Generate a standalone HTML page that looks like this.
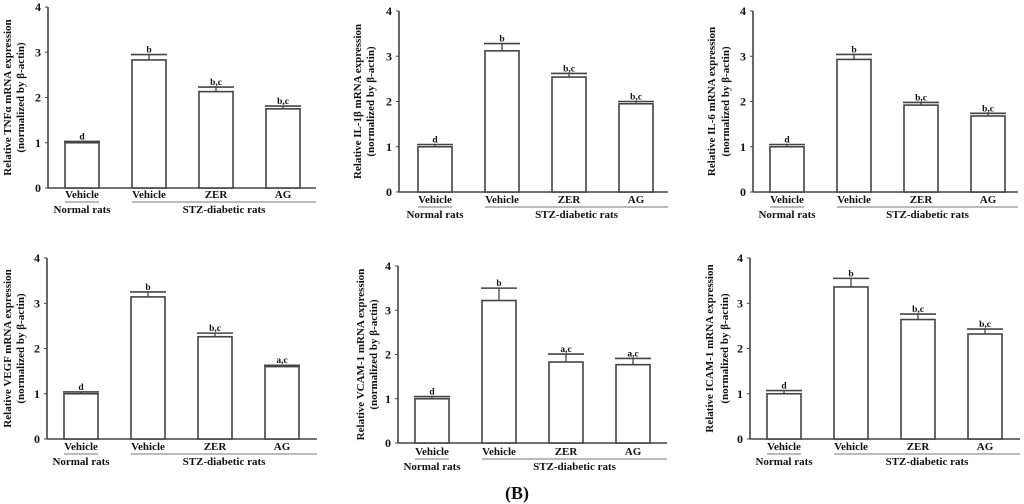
<!DOCTYPE html>
<html><head><meta charset="utf-8">
<style>
html,body{margin:0;padding:0;background:#fff;}
svg{display:block;}
text{font-family:"Liberation Serif",serif;font-weight:bold;fill:#111;}
</style></head>
<body>
<svg id="fig" width="1024" height="504" viewBox="0 0 1024 504" xmlns="http://www.w3.org/2000/svg">
<text x="517" y="499" font-size="18" text-anchor="middle">(B)</text>
</svg>
<script>
const categories = ["Vehicle","Vehicle","ZER","AG"];
const tickLabels = ["0","1","2","3","4"];
const tnfValues = [1.0, 2.83, 2.13, 1.75];
const tnfErrors = [0.03, 0.12, 0.10, 0.06];
const tnfLetters = ["d","b","b,c","b,c"];
const il1bValues = [1.0, 3.12, 2.54, 1.95];
const il1bErrors = [0.05, 0.16, 0.08, 0.05];
const il1bLetters = ["d","b","b,c","b,c"];
const il6Values = [1.0, 2.93, 1.92, 1.68];
const il6Errors = [0.05, 0.11, 0.06, 0.06];
const il6Letters = ["d","b","b,c","b,c"];
const vegfValues = [1.0, 3.14, 2.26, 1.60];
const vegfErrors = [0.04, 0.11, 0.08, 0.03];
const vegfLetters = ["d","b","b,c","a,c"];
const vcamValues = [1.0, 3.22, 1.83, 1.77];
const vcamErrors = [0.05, 0.28, 0.18, 0.14];
const vcamLetters = ["d","b","a,c","a,c"];
const icamValues = [1.0, 3.36, 2.64, 2.32];
const icamErrors = [0.07, 0.19, 0.12, 0.11];
const icamLetters = ["d","b","b,c","b,c"];

const NS = "http://www.w3.org/2000/svg";
const svg = document.getElementById('fig');
function mk(tag, attrs, parent){
  const e = document.createElementNS(NS, tag);
  for (const k in attrs) e.setAttribute(k, attrs[k]);
  (parent||svg).appendChild(e);
  return e;
}
const panels = [
  {id:"tnf", title:"Relative TNF\u03b1 mRNA expression", v:tnfValues, e:tnfErrors, l:tnfLetters, ax:48, y4:7, y0:188, b0:65, end:316, ly:198, t1:11, t2:24},
  {id:"il1b", title:"Relative  IL-1\u03b2 mRNA expression", v:il1bValues, e:il1bErrors, l:il1bLetters, ax:399, y4:11, y0:192, b0:418, end:668, ly:203, t1:361, t2:374},
  {id:"il6", title:"Relative  IL-6 mRNA expression", v:il6Values, e:il6Errors, l:il6Letters, ax:753, y4:11, y0:192, b0:770, end:1018, ly:203, t1:715, t2:729},
  {id:"vegf", title:"Relative  VEGF mRNA expression", v:vegfValues, e:vegfErrors, l:vegfLetters, ax:47, y4:258, y0:439, b0:64, end:317, ly:450, t1:11, t2:24},
  {id:"vcam", title:"Relative  VCAM-1 mRNA expression", v:vcamValues, e:vcamErrors, l:vcamLetters, ax:398, y4:266, y0:443, b0:415, end:667, ly:455, t1:364, t2:377},
  {id:"icam", title:"Relative  ICAM-1 mRNA expression", v:icamValues, e:icamErrors, l:icamLetters, ax:750, y4:258, y0:439, b0:767, end:1020, ly:450, t1:713, t2:728}
];
const STEP = 67, BW = 34;
panels.forEach(p => {
  const g = mk('g', {});
  
  
  const yScale = v => p.y0 - (p.y0 - p.y4) * v / 4;
  const xScale = i => p.b0 + i * STEP;
  const ya = mk('line', {x1:p.ax, y1:p.y4, x2:p.ax, y2:p.y0, stroke:'#444', 'stroke-width':1.6}, g);
  
  
  const xa = mk('line', {x1:p.ax, y1:p.y0, x2:p.end, y2:p.y0, stroke:'#444', 'stroke-width':1.6}, g);
  
  
  tickLabels.forEach((t, i) => {
    const y = yScale(i);
    mk('line', {x1:p.ax-3, y1:y, x2:p.ax, y2:y, stroke:'#444', 'stroke-width':1}, g);
    const tl = mk('text', {x:p.ax-7, y:y+4, 'font-size':12, 'text-anchor':'end'}, g);
    tl.textContent = t;
    
    
  });
  const cy = (p.y0 + p.y4) / 2;
  const t1 = mk('text', {x:p.t1, y:cy, 'font-size':11, 'text-anchor':'middle', transform:`rotate(-90 ${p.t1} ${cy})`}, g);
  t1.textContent = p.title;
  
  
  const t2 = mk('text', {x:p.t2, y:cy, 'font-size':11, 'text-anchor':'middle', transform:`rotate(-90 ${p.t2} ${cy})`}, g);
  t2.textContent = "(normalized by \u03b2-actin)";
  
  
  p.v.forEach((v, i) => {
    const x = xScale(i), y = yScale(v), ye = yScale(v + p.e[i]);
    const r = mk('rect', {x:x, y:y, width:BW, height:p.y0 - y, fill:'#fff', stroke:'#444', 'stroke-width':1.6}, g);
    
    
    mk('line', {x1:x+BW/2, y1:y, x2:x+BW/2, y2:ye, stroke:'#444', 'stroke-width':1.3}, g);
    const cap = mk('line', {x1:x-1, y1:ye, x2:x+BW+1, y2:ye, stroke:'#444', 'stroke-width':1.6}, g);
    
    
    const lt = mk('text', {x:x+BW/2, y:ye-2, 'font-size':9.5, 'text-anchor':'middle'}, g);
    lt.textContent = p.l[i];
    
    
    const cl = mk('text', {x:x+BW/2, y:p.ly, 'font-size':11, 'text-anchor':'middle'}, g);
    cl.textContent = categories[i];
    
    
  });
  const uy = p.ly + 4;
  mk('line', {x1:xScale(0), y1:uy, x2:xScale(0)+BW, y2:uy, stroke:'#777', 'stroke-width':1}, g);
  mk('line', {x1:xScale(1), y1:uy, x2:p.end, y2:uy, stroke:'#777', 'stroke-width':1}, g);
  const n = mk('text', {x:xScale(0)+BW/2, y:uy+11, 'font-size':11, 'text-anchor':'middle'}, g);
  n.textContent = "Normal rats";
  
  
  const s = mk('text', {x:(xScale(1)+p.end)/2, y:uy+11, 'font-size':11, 'text-anchor':'middle'}, g);
  s.textContent = "STZ-diabetic rats";
  
  
});
</script>
</body></html>
